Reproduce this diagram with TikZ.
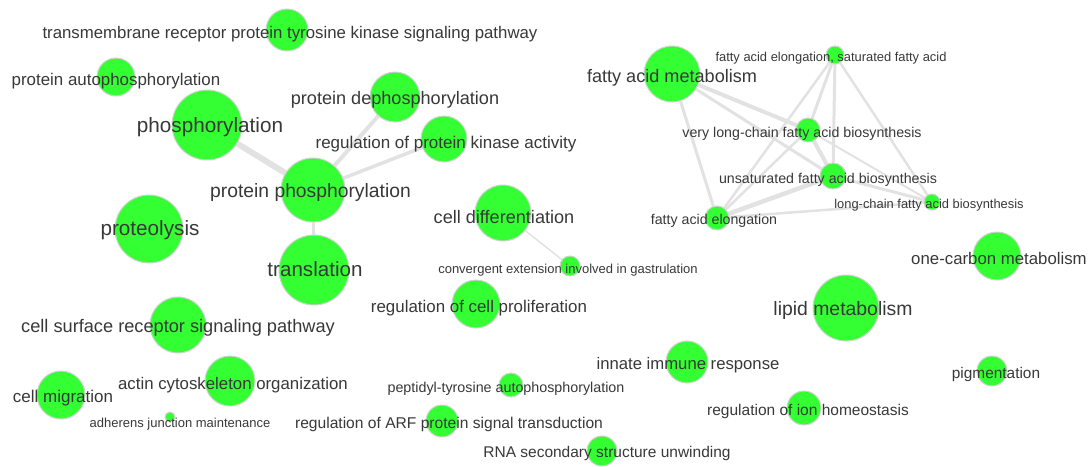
\documentclass[tikz,border=0pt]{standalone}
\usepackage{fontspec}
\setmainfont{Liberation Sans}
\usetikzlibrary{backgrounds}
\newcommand{\setfs}[1]{\fontsize{#1}{#1}\selectfont}
\definecolor{bubfill}{HTML}{33FF33}
\definecolor{bubline}{HTML}{D2D2D2}
\definecolor{edgecol}{HTML}{E2E2E2}
\definecolor{txtcol}{HTML}{383838}
\tikzset{
  bub/.style={circle, fill=bubfill, draw=bubline, line width=1pt, inner sep=0pt, minimum size=#1},
  lab/.style={anchor=mid, inner sep=0pt, yshift=-4pt, text=txtcol, font=\setfs{#1}},
  edge/.style={draw=edgecol, line width=#1, line cap=round}
}
\begin{document}
\begin{tikzpicture}[x=1pt,y=-1pt]
\useasboundingbox (0,0) rectangle (1092,466);
% circles (nodes)
\node[bub=42pt] (tm) at (287,30) {};
\node[bub=38pt] (pap) at (116,77) {};
\node[bub=70pt] (phos) at (207,125) {};
\node[bub=50pt] (pdp) at (395,97) {};
\node[bub=46pt] (rpka) at (444,139) {};
\node[bub=64pt] (pp) at (313,190) {};
\node[bub=68pt] (prot) at (149,229) {};
\node[bub=70pt] (trans) at (314,270) {};
\node[bub=56pt] (cdiff) at (503,213) {};
\node[bub=20pt] (conv) at (570,266) {};
\node[bub=48pt] (rcp) at (476,304) {};
\node[bub=56pt] (csr) at (178,325) {};
\node[bub=48pt] (cmig) at (61,395) {};
\node[bub=50pt] (actin) at (230,381) {};
\node[bub=10pt] (adh) at (170,417) {};
\node[bub=24pt] (pty) at (511,385) {};
\node[bub=32pt] (arf) at (442,421) {};
\node[bub=30pt] (rna) at (602,451) {};
\node[bub=56pt] (fam) at (672,74) {};
\node[bub=18pt] (sat) at (835,55) {};
\node[bub=24pt] (vlc) at (808,130) {};
\node[bub=26pt] (ufa) at (833,176) {};
\node[bub=16pt] (lc) at (932,202) {};
\node[bub=24pt] (fae) at (717,218) {};
\node[bub=42pt] (imm) at (687,362) {};
\node[bub=66pt] (lipid) at (846,308) {};
\node[bub=34pt] (ion) at (804,408) {};
\node[bub=48pt] (one) at (997,256) {};
\node[bub=30pt] (pig) at (992,371) {};
% edges, behind the circles
\begin{scope}[on background layer]
\path[edge=6pt] (phos.center) -- (pp.center);
\path[edge=4pt] (pp.center) -- (pdp.center);
\path[edge=3.5pt] (pp.center) -- (rpka.center);
\path[edge=3pt] (pp.center) -- (trans.center);
\path[edge=1.5pt] (cdiff.center) -- (conv.center);
\path[edge=4pt] (fam.center) -- (vlc.center);
\path[edge=3pt] (fam.center) -- (ufa.center);
\path[edge=3pt] (fam.center) -- (fae.center);
\path[edge=3pt] (sat.center) -- (vlc.center);
\path[edge=3pt] (sat.center) -- (ufa.center);
\path[edge=2.5pt] (sat.center) -- (fae.center);
\path[edge=2.5pt] (sat.center) -- (lc.center);
\path[edge=4pt] (vlc.center) -- (ufa.center);
\path[edge=2.5pt] (vlc.center) -- (fae.center);
\path[edge=2pt] (vlc.center) -- (lc.center);
\path[edge=4.5pt] (ufa.center) -- (fae.center);
\path[edge=3pt] (ufa.center) -- (lc.center);
\path[edge=2.5pt] (fae.center) -- (lc.center);
\end{scope}
% labels
\node[lab=16.8pt] (tmL) at (290,32) {transmembrane receptor protein tyrosine kinase signaling pathway};
\node[lab=16.9pt] (papL) at (116,79) {protein autophosphorylation};
\node[lab=20.7pt] (phosL) at (210,126) {phosphorylation};
\node[lab=18.1pt] (pdpL) at (395,98) {protein dephosphorylation};
\node[lab=17pt] (rpkaL) at (446,142) {regulation of protein kinase activity};
\node[lab=19.3pt] (ppL) at (310.5,191) {protein phosphorylation};
\node[lab=20.7pt] (protL) at (150,229) {proteolysis};
\node[lab=20.6pt] (transL) at (315,270) {translation};
\node[lab=18.1pt] (cdiffL) at (504,217) {cell differentiation};
\node[lab=13pt] (convL) at (568,267) {convergent extension involved in gastrulation};
\node[lab=16.9pt] (rcpL) at (479,306) {regulation of cell proliferation};
\node[lab=18.2pt] (csrL) at (178,326) {cell surface receptor signaling pathway};
\node[lab=17pt] (cmigL) at (63,396) {cell migration};
\node[lab=16.8pt] (actinL) at (233,383) {actin cytoskeleton organization};
\node[lab=13pt] (adhL) at (180,421) {adherens junction maintenance};
\node[lab=14.3pt] (ptyL) at (506,386) {peptidyl-tyrosine autophosphorylation};
\node[lab=15.6pt] (arfL) at (449,422) {regulation of ARF protein signal transduction};
\node[lab=15.5pt] (rnaL) at (607,451) {RNA secondary structure unwinding};
\node[lab=18.1pt] (famL) at (672,76) {fatty acid metabolism};
\node[lab=12.9pt] (satL) at (831,55) {fatty acid elongation, saturated fatty acid};
\node[lab=14.2pt] (vlcL) at (802,131) {very long-chain fatty acid biosynthesis};
\node[lab=14.2pt] (ufaL) at (828,177) {unsaturated fatty acid biosynthesis};
\node[lab=12.9pt] (lcL) at (929,202) {long-chain fatty acid biosynthesis};
\node[lab=14.2pt] (faeL) at (714,218) {fatty acid elongation};
\node[lab=16.7pt] (immL) at (688,363) {innate immune response};
\node[lab=19.4pt] (lipidL) at (843,309) {lipid metabolism};
\node[lab=15.5pt] (ionL) at (808,409) {regulation of ion homeostasis};
\node[lab=16.8pt] (oneL) at (999,258) {one-carbon metabolism};
\node[lab=15.4pt] (pigL) at (996,372) {pigmentation};
\end{tikzpicture}
\end{document}
